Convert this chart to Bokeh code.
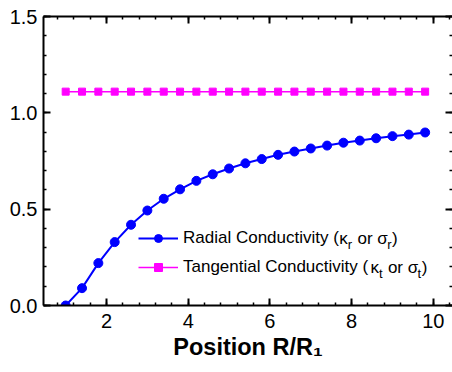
from bokeh.plotting import figure
from bokeh.models import (LinearAxis, SingleIntervalTicker, Range1d, Legend, LegendItem,
                          NumeralTickFormatter, CustomLabelingPolicy, Label)
from bokeh.embed import file_html
from bokeh.resources import INLINE

# data
position = [1.0, 1.4, 1.8, 2.2, 2.6, 3.0, 3.4, 3.8, 4.2, 4.6, 5.0, 5.4,
            5.8, 6.2, 6.6, 7.0, 7.4, 7.8, 8.2, 8.6, 9.0, 9.4, 9.8]
radial = [0.0, 0.09, 0.22, 0.329, 0.419, 0.493, 0.554, 0.603, 0.647, 0.681, 0.711, 0.738,
          0.760, 0.782, 0.799, 0.815, 0.830, 0.845, 0.856, 0.868, 0.879, 0.887, 0.898]
tangential = [1.11] * len(position)
radial_name = "Radial Conductivity ("
radial_tail = [("κ", False), ("r", True), ("or", False), ("σ", False), ("r", True), (")", False)]
tangential_name = "Tangential Conductivity ("
tangential_tail = [("κ", False), ("t", True), ("or", False), ("σ", False), ("t", True), (")", False)]
x_title = "Position R/R₁"

FONT = "Liberation Sans"
F = 17      # legend font px
S = 13      # legend subscript px

# Arial / Liberation Sans advance widths (em)
W = {'R': .722, 'a': .556, 'd': .556, 'i': .222, 'l': .222, ' ': .278, 'C': .722, 'o': .556,
     'n': .556, 'u': .556, 'c': .5, 't': .278, 'v': .5, 'y': .5, '(': .333, ')': .333,
     'r': .333, 'T': .611, 'g': .556, 'e': .556, 'κ': .5, 'σ': .58}

def tw(s, size):
    return sum(W.get(ch, .556) for ch in s) * size

p = figure(width=452, height=372, output_backend="svg", toolbar_location=None,
           x_range=Range1d(0.457, 10.47), y_range=Range1d(0, 1.5),
           min_border_left=43, min_border_top=16, min_border_right=0, min_border_bottom=67)
p.xgrid.visible = False
p.ygrid.visible = False
p.outline_line_color = None
p.background_fill_color = "white"
p.border_fill_color = "white"

xt = SingleIntervalTicker(interval=2, num_minor_ticks=5)
yt = SingleIntervalTicker(interval=0.5, num_minor_ticks=5)
no_labels = CustomLabelingPolicy(code="return new Set()")

def style(ax, labels=True):
    ax.axis_line_width = 2
    ax.axis_line_color = "black"
    ax.major_tick_line_width = 2
    ax.minor_tick_line_width = 1.5
    ax.major_tick_in = 7
    ax.major_tick_out = 0
    ax.minor_tick_in = 3
    ax.minor_tick_out = 0
    ax.major_label_text_font = FONT
    ax.major_label_text_color = "black"
    if labels:
        ax.major_label_text_font_size = "20px"
    else:
        ax.major_label_text_font_size = "0px"
        ax.major_label_policy = no_labels
        ax.major_label_standoff = 0

p.xaxis.ticker = xt
p.yaxis.ticker = yt
p.yaxis.formatter = NumeralTickFormatter(format="0.0")
style(p.xaxis[0])
style(p.yaxis[0])
p.xaxis.major_label_standoff = 8
p.yaxis.major_label_standoff = 6
p.xaxis.axis_label = x_title
p.xaxis.axis_label_text_font = FONT
p.xaxis.axis_label_text_font_style = "bold"
p.xaxis.axis_label_text_font_size = "23.5px"
p.xaxis.axis_label_text_color = "black"
p.xaxis.axis_label_standoff = 3

top = LinearAxis(ticker=xt)
style(top, labels=False)
p.add_layout(top, "above")
right = LinearAxis(ticker=yt)
style(right, labels=False)
right.axis_line_color = None
p.add_layout(right, "right")

rl = p.line(position, radial, line_color="#0000FF", line_width=2)
rs = p.scatter(position, radial, marker="circle", size=9, fill_color="#0000FF", line_color="#0000FF")
tl = p.line(position, tangential, line_color="#FF00FF", line_width=1.5)
ts = p.scatter(position, tangential, marker="square", size=7, fill_color="#FF00FF", line_color="#FF00FF")

LEG_X, LEG_Y = 95, 28
legend = Legend(items=[LegendItem(label=radial_name, renderers=[rl, rs]),
                       LegendItem(label=tangential_name, renderers=[tl, ts])],
                location=(LEG_X, LEG_Y), border_line_color=None, background_fill_alpha=0,
                padding=0, margin=0, spacing=9, glyph_width=40, glyph_height=20,
                label_height=20, label_standoff=5,
                label_text_font=FONT, label_text_font_size=f"{F}px", label_text_color="black")
p.add_layout(legend, "center")

# subscripted tails of the legend labels
def tail(row_center, name, pieces):
    x = LEG_X + 40 + 5 + tw(name, F)
    for txt, sub in pieces:
        if txt == "or":
            x += tw(" ", F)
        size = S if sub else F
        p.add_layout(Label(x=x, y=row_center - (6 if sub else 0), x_units="screen", y_units="screen",
                           text=txt, text_font=FONT, text_font_size=f"{size}px",
                           text_baseline="middle", text_align="left", text_color="black"))
        x += tw(txt, size) + (0.5 if sub else 0)
        if txt == "or":
            x += tw(" ", F)

tail(LEG_Y + 20 + 9 + 10, radial_name, radial_tail)
tail(LEG_Y + 10, tangential_name, tangential_tail)

open("out.html", "w").write(file_html(p, INLINE))
